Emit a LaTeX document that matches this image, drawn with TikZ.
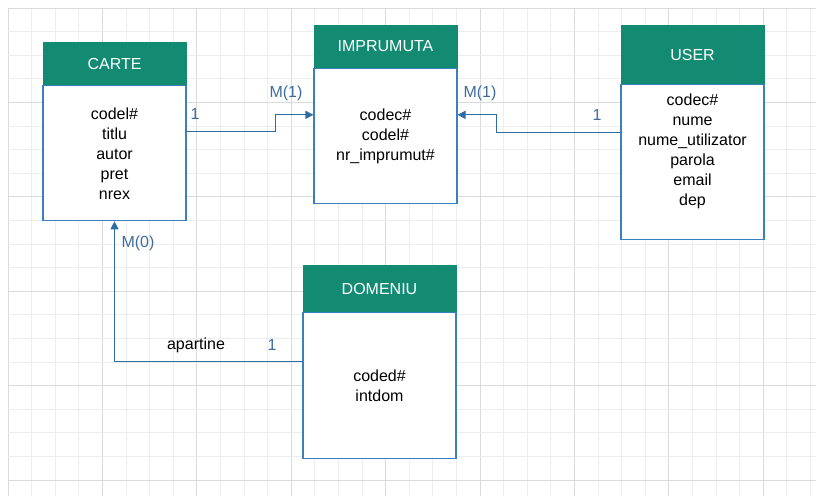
\documentclass[tikz,border=0pt]{standalone}
\usepackage{fontspec}
\setmainfont{Liberation Sans}
\usetikzlibrary{arrows.meta,positioning,calc}
\definecolor{teal}{HTML}{138A72}
\definecolor{edge}{HTML}{3A80C0}
\definecolor{link}{HTML}{2C6DA3}
\definecolor{lbl}{HTML}{3D6C9F}
\definecolor{minorgrid}{HTML}{EDEDED}
\definecolor{majorgrid}{HTML}{DADADA}
\tikzset{head/.style={fill=teal,draw=teal,text=white,minimum width=107.25pt,
  inner sep=0pt,font=\fontsize{12}{15}\selectfont},
  body/.style={draw=edge,fill=white,line width=0.8pt,minimum width=107.25pt,
  inner sep=0pt,align=center,font=\fontsize{12}{15}\selectfont},
  link/.style={-{Triangle[length=6pt,width=6pt]},draw=link,line width=0.9pt},
  card/.style={text=lbl,font=\fontsize{12}{15}\selectfont}}

\begin{document}
\begin{tikzpicture}[x=0.75pt,y=-0.75pt]
\useasboundingbox (0,0) rectangle (816,496);
\foreach \i in {0,...,34}{
  \pgfmathsetmacro\xx{8+23.6*\i}
  \pgfmathtruncatemacro\r{mod(\i,4)}
  \ifnum\r=0
    \draw[majorgrid,line width=0.75pt] (\xx,8) -- (\xx,496);
  \else
    \draw[minorgrid,line width=0.75pt] (\xx,8) -- (\xx,496);
  \fi}
\foreach \j in {0,...,20}{
  \pgfmathsetmacro\yy{8+23.6*\j}
  \pgfmathtruncatemacro\r{mod(\j,4)}
  \ifnum\r=0
    \draw[majorgrid,line width=0.75pt] (8,\yy) -- (816,\yy);
  \else
    \draw[minorgrid,line width=0.75pt] (8,\yy) -- (816,\yy);
  \fi}
% entities
\node[head,minimum height=32.25pt] (carteHead) at (114.5,63.5) {CARTE};
\node[body,minimum height=101.25pt,below=0pt of carteHead] (carte)
  {codel\#\\titlu\\autor\\pret\\nrex};
\node[head,minimum height=32.25pt] (imprHead) at (385.5,46.5) {IMPRUMUTA};
\node[body,minimum height=101.25pt,below=0pt of imprHead] (impr)
  {codec\#\\codel\#\\nr\_imprumut\#};
\node[head,minimum height=44.25pt] (userHead) at (692.5,54.5) {USER};
\node[body,minimum height=116.25pt,below=0pt of userHead] (user)
  {codec\#\\nume\\nume\_utilizator\\parola\\email\\dep\\\strut};
\node[head,minimum width=114.75pt,minimum height=35.25pt] (domHead) at (379.5,288.5) {DOMENIU};
\node[body,minimum width=114.75pt,minimum height=109.5pt,below=0pt of domHead] (dom)
  {coded\#\\intdom};
% relations
\draw[link] ([yshift=16.1pt]carte.east) -- ++(89,0) |- ([yshift=16.1pt]impr.west);
\draw[link] ([yshift=22.1pt]user.west) -- ++(-124,0) |- ([yshift=16.1pt]impr.east);
\draw[link] ([yshift=18pt]dom.west) -| (carte.south);
\node[card] (c1) at (195,114) {1};
\node[card] (m1) at (286,93) {M(1)};
\node[card] (m2) at (480,93) {M(1)};
\node[card] (c2) at (597,115) {1};
\node[card] (m3) at (138,243) {M(0)};
\node[font=\fontsize{12}{15}\selectfont] (apart) at (196,345) {apartine};
\node[card] (c3) at (272,345) {1};
\end{tikzpicture}
\end{document}
